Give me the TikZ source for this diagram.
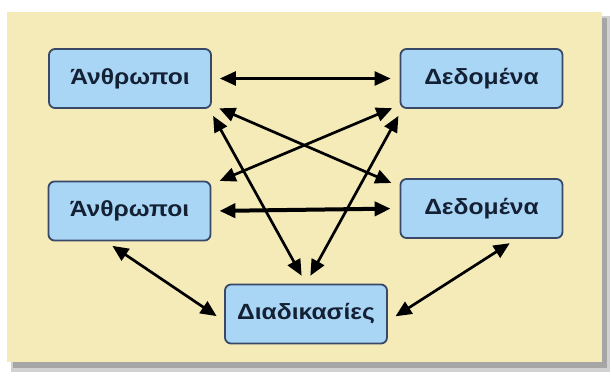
\documentclass[tikz,border=0pt]{standalone}
\usepackage{fontspec}
\setmainfont{Liberation Sans}
\usetikzlibrary{arrows.meta}

\definecolor{panel}{RGB}{244,235,185}
\definecolor{boxfill}{RGB}{170,214,246}
\definecolor{boxline}{RGB}{58,72,104}
\definecolor{boxtext}{RGB}{20,32,52}

\tikzset{
  box/.style={draw=boxline, fill=boxfill, line width=1.8pt, rounded corners=6pt,
    minimum width=162pt, minimum height=59pt, text=boxtext,
    font=\fontsize{22}{25}\selectfont\bfseries},
  link/.style={{Triangle[length=16pt,width=14pt]}-{Triangle[length=16pt,width=14pt]},
    line width=2.7pt, shorten <=8pt, shorten >=9pt},
}

\begin{document}
\begin{tikzpicture}[x=1pt, y=-1pt]
  \useasboundingbox[fill=white] (0,0) rectangle (611,376);
  % panel with its shadow
  \fill[black!18] (11,16) rectangle (610,372);
  \fill[black!35] (13,18) rectangle (607,368);
  \fill[panel] (7,12) rectangle (602,362);

  \node[box] (anthA) at (130,78.5)  {\scalebox{1.12}[1]{Άνθρωποι}};
  \node[box] (dedA)  at (481.5,78.5) {\scalebox{1.12}[1]{Δεδομένα}};
  \node[box] (anthB) at (129.5,211) {\scalebox{1.12}[1]{Άνθρωποι}};
  \node[box] (dedB)  at (481.5,208.5) {\scalebox{1.12}[1]{Δεδομένα}};
  \node[box] (diad)  at (306,314)   {\scalebox{1.12}[1]{Διαδικασίες}};

  \draw[link] (anthA.east) -- (dedA.west);
  \draw[link, line width=4pt] (anthB.east) -- (dedB.west);
  \draw[link] (anthA.-18) -- (dedB.165);
  \draw[link] (dedA.-162) -- (anthB.18);
  \draw[link] (anthA.-21) -- (diad.north);
  \draw[link] (dedA.-159) -- (diad.north);
  \draw[link] (anthB.-128) -- (diad.185);
  \draw[link] (dedB.-41) -- (diad.-5);
\end{tikzpicture}
\end{document}
